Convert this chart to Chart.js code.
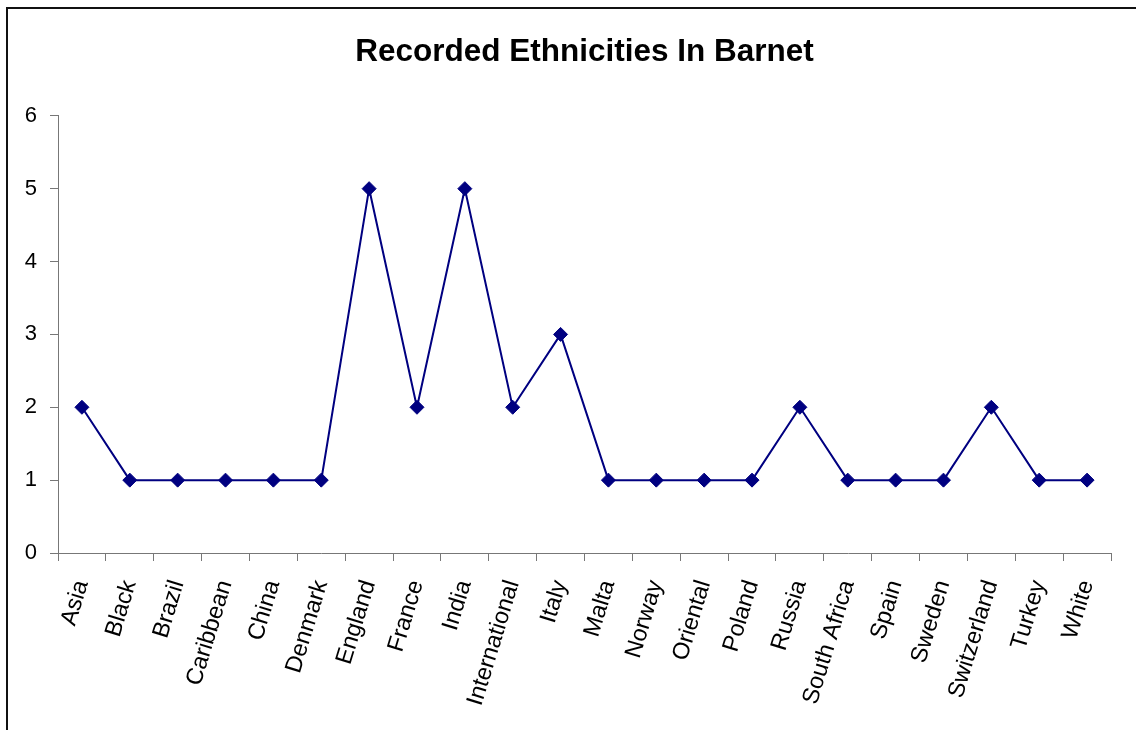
<!DOCTYPE html>
<html>
<head>
<meta charset="utf-8">
<script src="https://cdn.jsdelivr.net/npm/chart.js@4.4.0/dist/chart.umd.min.js"></script>
<style>
  html, body { margin: 0; padding: 0; background: #fff; overflow: hidden; }
  #wrap { position: relative; width: 1136px; height: 730px; }
  #frame { position: absolute; left: 6px; top: 7px; width: 1200px; height: 800px; border: 2px solid #111; }
  canvas { position: absolute; left: 0; top: 0; }
</style>
</head>
<body>
<div id="wrap">
  <div id="frame"></div>
  <canvas id="ethnicityChart" width="1136" height="730"></canvas>
</div>
<script>
// categories and counts
const categories = ['Asia', 'Black', 'Brazil', 'Caribbean', 'China', 'Denmark', 'England', 'France', 'India',
    'International', 'Italy', 'Malta', 'Norway', 'Oriental', 'Poland', 'Russia', 'South Africa', 'Spain',
    'Sweden', 'Switzerland', 'Turkey', 'White'];
const counts = [2, 1, 1, 1, 1, 1, 5, 2, 5, 2, 3, 1, 1, 1, 1, 2, 1, 1, 1, 2, 1, 1];
const yTicks = [0, 1, 2, 3, 4, 5, 6];

const navy = '#000080';
const axisGrey = '#777777';

Chart.defaults.font.family = '"Liberation Sans", Arial, sans-serif';
Chart.defaults.color = '#000';

const ctx = document.getElementById('ethnicityChart').getContext('2d');
new Chart(ctx, {
    type: 'line',
    data: {
        labels: categories,
        datasets: [{
            label: 'Ethnicities',
            data: counts,
            borderColor: navy,
            backgroundColor: navy,
            borderWidth: 2,
            tension: 0,
            pointStyle: 'rectRot',
            pointRadius: 7,
            pointHoverRadius: 7,
            pointBorderWidth: 1,
            pointBackgroundColor: navy,
            pointBorderColor: navy,
        }]
    },
    options: {
        responsive: false,
        animation: false,
        events: [],
        layout: { padding: { left: 0, right: 25, top: 0, bottom: 0 } },
        plugins: {
            legend: { display: false },
            tooltip: { enabled: false },
            title: {
                display: true,
                fullSize: false, // centre over the plot area, like the original
                text: 'Recorded Ethnicities In Barnet',
                color: '#000',
                font: { size: 31.5, weight: 'bold' },
                padding: { top: 33, bottom: 45 },
            },
        },
        scales: {
            x: {
                offset: true,
                grid: { display: true, drawOnChartArea: false, offset: true, tickLength: 8, color: axisGrey },
                border: { display: true, color: axisGrey, width: 1 },
                ticks: { font: { size: 23.5 }, minRotation: 73, maxRotation: 73, padding: 16, autoSkip: false },
                afterFit: scale => { scale.height = 177; },
            },
            y: {
                min: 0,
                max: 6,
                afterBuildTicks: scale => { scale.ticks = yTicks.map(v => ({ value: v })); },
                grid: { display: true, drawOnChartArea: false, tickLength: 8, color: axisGrey },
                border: { display: true, color: axisGrey, width: 1 },
                ticks: { font: { size: 22 }, padding: 13 },
                afterFit: scale => { scale.width = 58; },
            }
        }
    }
});
</script>
</body>
</html>
